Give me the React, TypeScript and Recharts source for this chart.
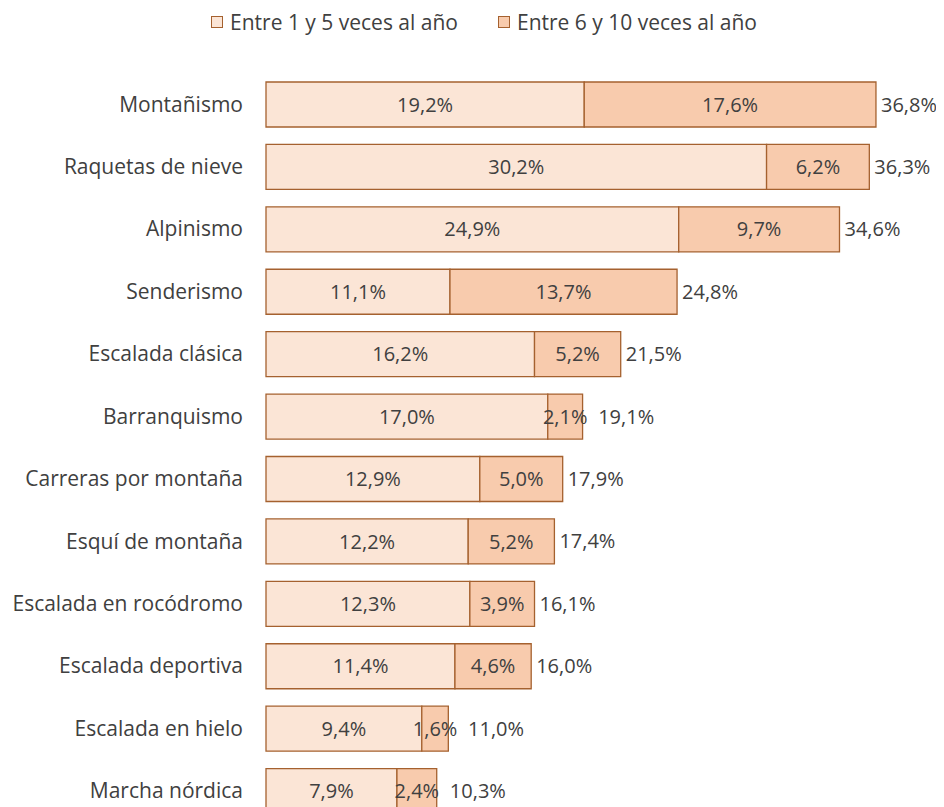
import { BarChart, Bar, XAxis, YAxis, Legend, LabelList } from 'recharts';

const categories = [
  'Montañismo',
  'Raquetas de nieve',
  'Alpinismo',
  'Senderismo',
  'Escalada clásica',
  'Barranquismo',
  'Carreras por montaña',
  'Esquí de montaña',
  'Escalada en rocódromo',
  'Escalada deportiva',
  'Escalada en hielo',
  'Marcha nórdica',
];
const oneToFive = [19.2, 30.2, 24.9, 11.1, 16.2, 17.0, 12.9, 12.2, 12.3, 11.4, 9.4, 7.9];
const sixToTen = [17.6, 6.2, 9.7, 13.7, 5.2, 2.1, 5.0, 5.2, 3.9, 4.6, 1.6, 2.4];
const totals = [36.8, 36.3, 34.6, 24.8, 21.5, 19.1, 17.9, 17.4, 16.1, 16.0, 11.0, 10.3];
const seriesNames = ['Entre 1 y 5 veces al año', 'Entre 6 y 10 veces al año'];

const data = categories.map((name, i) => ({
  name,
  a: oneToFive[i],
  b: sixToTen[i],
  total: totals[i],
}));

const FONT = '"Open Sans", sans-serif';
const SIZE = 21;
const VAL_SIZE = 20;
const TEXT = '#404040';
const STROKE = '#A5612F';
const LIGHT = '#FBE5D6';
const DARK = '#F8CBAD';

const fmt = (v: number) => v.toFixed(1).replace('.', ',') + '%';

const LegendContent = () => (
  <div
    style={{
      display: 'flex',
      justifyContent: 'center',
      gap: 40,
      fontFamily: FONT,
      fontSize: SIZE,
      color: TEXT,
      paddingLeft: 16,
    }}
  >
    {[LIGHT, DARK].map((c, i) => (
      <div key={i} style={{ display: 'flex', alignItems: 'center' }}>
        <span style={{ width: 10, height: 10, background: c, border: `1px solid ${STROKE}`, marginRight: 7 }} />
        <span>{seriesNames[i]}</span>
      </div>
    ))}
  </div>
);

// total sits after the bar, pushed right when the last segment is narrow
const TotalLabel = (props: any) => {
  const { x, y, width, height, value } = props;
  const end = x + width;
  const tx = Math.max(end + 5, x + width / 2 + 33);
  return (
    <text x={tx} y={y + height / 2} dy="0.35em" fontFamily={FONT} fontSize={VAL_SIZE} fill={TEXT}>
      {fmt(value)}
    </text>
  );
};

const App = () => {
  return (
    <div style={{ width: 936, height: 799, overflow: 'hidden' }}>
      <BarChart
        width={936}
        height={820}
        data={data}
        layout="vertical"
        margin={{ top: 29, right: 15, left: 0, bottom: 6 }}
      >
        <Legend
          verticalAlign="top"
          content={<LegendContent />}
          wrapperStyle={{ top: 0, left: 0, width: 936, height: 36 }}
        />
        <XAxis type="number" domain={[0, 40]} hide />
        <YAxis
          type="category"
          dataKey="name"
          width={258}
          axisLine={false}
          tickLine={false}
          tickSize={20}
          tickMargin={3}
          tick={{ fontFamily: FONT, fontSize: SIZE, fill: TEXT }}
        />
        <Bar dataKey="a" stackId="s" fill={LIGHT} stroke={STROKE} strokeWidth={1.3} barSize={45} isAnimationActive={false}>
          <LabelList dataKey="a" position="center" formatter={(v: any) => fmt(v)} style={{ fontFamily: FONT, fontSize: VAL_SIZE, fill: TEXT }} />
        </Bar>
        <Bar dataKey="b" stackId="s" fill={DARK} stroke={STROKE} strokeWidth={1.3} barSize={45} isAnimationActive={false}>
          <LabelList dataKey="b" position="center" formatter={(v: any) => fmt(v)} style={{ fontFamily: FONT, fontSize: VAL_SIZE, fill: TEXT }} />
          <LabelList dataKey="total" content={<TotalLabel />} />
        </Bar>
      </BarChart>
    </div>
  );
};

export default App;
